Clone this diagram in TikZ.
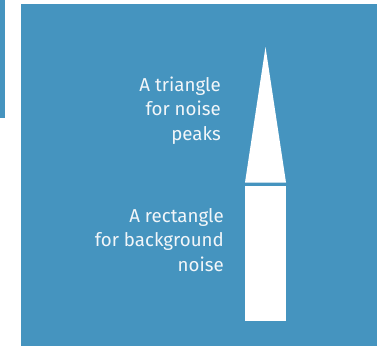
\documentclass[tikz,border=0pt]{standalone}
\usepackage{fontspec}
\setmainfont{Fira Sans}
\usepackage{tikz}
\definecolor{panelblue}{HTML}{4594BF}
\definecolor{labelwhite}{HTML}{F2F6F9}

\begin{document}
\begin{tikzpicture}[x=1pt, y=-1pt,
    label text/.style={text=labelwhite, align=right, inner sep=0pt,
      font=\fontsize{18.7}{24.5}\selectfont}
]
  \useasboundingbox (0,0) rectangle (377,346);

  % Strip at the left edge
  \fill[panelblue] (0,0) rectangle (5,118);

  % Main panel
  \fill[panelblue] (21,4) rectangle (377,346);

  % Triangle for noise peaks
  \fill[white] (265.5,47) -- (286,182.5) -- (245,182.5) -- cycle;

  % Rectangle for background noise
  \fill[white] (245,185.5) rectangle (286,321);

  % Labels
  \node[label text, anchor=base east] (peaklabel) at (221,140)
    {A triangle\\for noise\\peaks};
  \node[label text, anchor=base east] (noiselabel) at (224,271)
    {A rectangle\\for background\\noise};
\end{tikzpicture}
\end{document}
